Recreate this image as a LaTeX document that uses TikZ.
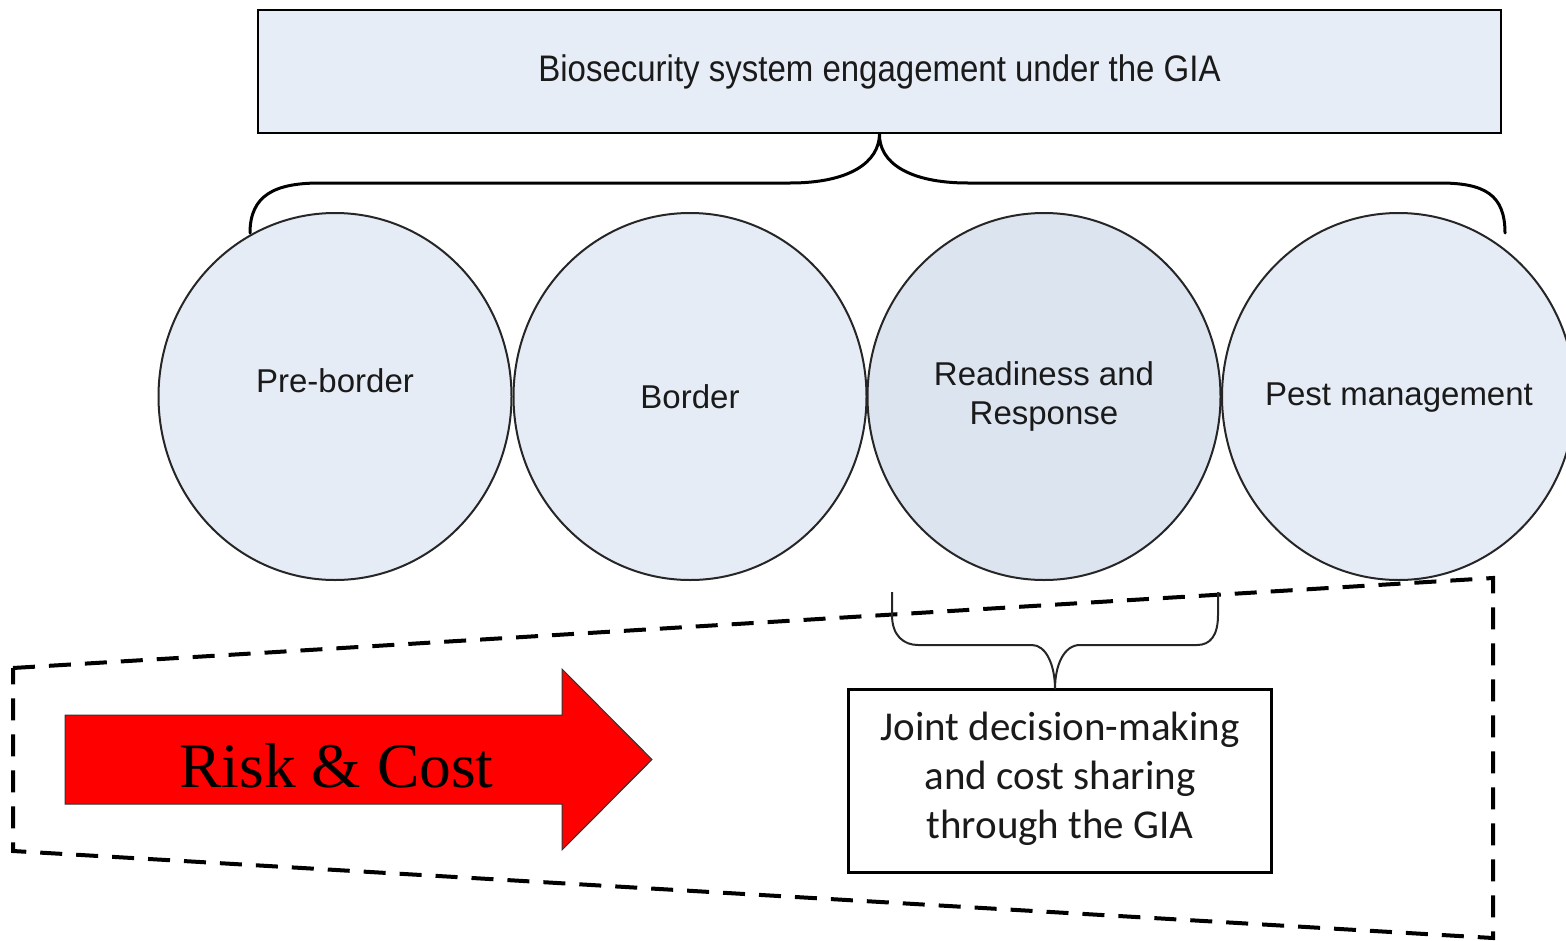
\documentclass[tikz,border=0pt]{standalone}
\usepackage{fontspec}
\setmainfont{Liberation Serif}
\newfontfamily\arialf{Liberation Sans}
\newfontfamily\calf{Carlito}
\usetikzlibrary{shapes.geometric}
\definecolor{boxblue}{HTML}{E7EDF7}
\definecolor{circblue}{HTML}{E6ECF6}
\definecolor{circdark}{HTML}{DCE4F0}
\definecolor{txt}{HTML}{1A1A1A}
\tikzset{
  stage/.style={ellipse, draw=black!85, line width=2pt, fill=circblue,
    minimum width=353pt, minimum height=367pt, inner sep=0pt},
  circtext/.style={inner sep=0pt, align=center, font=\arialf\fontsize{33}{41}\selectfont, text=txt},
  brace/.style={draw=black, line width=3pt, line cap=round},
  smallbrace/.style={draw=black!85, line width=2pt},
  frame/.style={draw=black, line width=4pt, dash pattern=on 22pt off 14pt},
}
\begin{document}
\begin{tikzpicture}[x=1pt,y=-1pt]
\useasboundingbox (0,0) rectangle (1566,940);
% top box
\node[draw=black, line width=2.5pt, fill=boxblue, minimum width=1243pt, minimum height=123pt, inner sep=0pt,
  font=\arialf\fontsize{33}{40}\selectfont, text=txt] (top) at (879.5,71.5)
  {\scalebox{1}[1.12]{Biosecurity system engagement under the GIA}};
% circles
\node[stage] (pre) at (335,396.5) {};
\node[stage] (bor) at (690,396.5) {};
\node[stage, fill=circdark] (rea) at (1044,396.5) {};
\node[stage] (pest) at (1398.5,396.5) {};
\node[circtext] (pretext) at (335,381) {Pre-border};
\node[circtext] (bortext) at (690,397) {Border};
\node[circtext] (reatext) at (1044,396.5) {Readiness and\\[-2pt]Response};
\node[circtext] (pesttext) at (1399,398) {Pest management};
% top brace
\coordinate (bl) at (250,233);
\coordinate (br) at (1505,233);
\draw[brace] (bl) .. controls (250,195) and (275,183) .. (320,183) -- (790,183)
  .. controls (850,183) and (879,162) .. (top.south)
  .. controls (879,162) and (908,183) .. (968,183) -- (1440,183)
  .. controls (1485,183) and (1505,195) .. (br);
% dashed frame
\coordinate (f1) at (13,668);
\coordinate (f2) at (1493,578);
\coordinate (f3) at (1493,938);
\coordinate (f4) at (13,851);
\draw[frame] (f1) -- (f2) -- (f3) -- (f4) -- cycle;
% joint box
\node[draw=black, line width=3pt, fill=white, minimum width=423pt, minimum height=183pt, inner sep=0pt] (joint) at (1059.5,780.5) {};
\node[inner sep=0pt, align=center, font=\calf\fontsize{41}{49}\selectfont, text=txt] (jointtext) at (1060,778.5)
  {Joint decision-making\\and cost sharing\\through the GIA};
% bottom brace
\coordinate (sbl) at (892,592);
\coordinate (sbr) at (1218,592);
\coordinate (tip) at (1055,689);
\draw[smallbrace] (sbl) -- (892,615) .. controls (892,636) and (904,645) .. (918,645) -- (1032,645)
  .. controls (1046,645) and (1055,665) .. (tip)
  .. controls (1055,665) and (1064,645) .. (1080,645) -- (1197,645)
  .. controls (1210,645) and (1218,636) .. (1218,615) -- (sbr);
% red arrow
\draw[fill=red, draw=black!80, line width=1pt] (65,715) -- (562,715) -- (562,669) -- (652,759.5)
  -- (562,850) -- (562,804) -- (65,804) -- cycle;
\node[font=\fontsize{63.5}{70}\selectfont, inner sep=0pt] (risk) at (336.5,766) {Risk \& Cost};
\end{tikzpicture}
\end{document}
